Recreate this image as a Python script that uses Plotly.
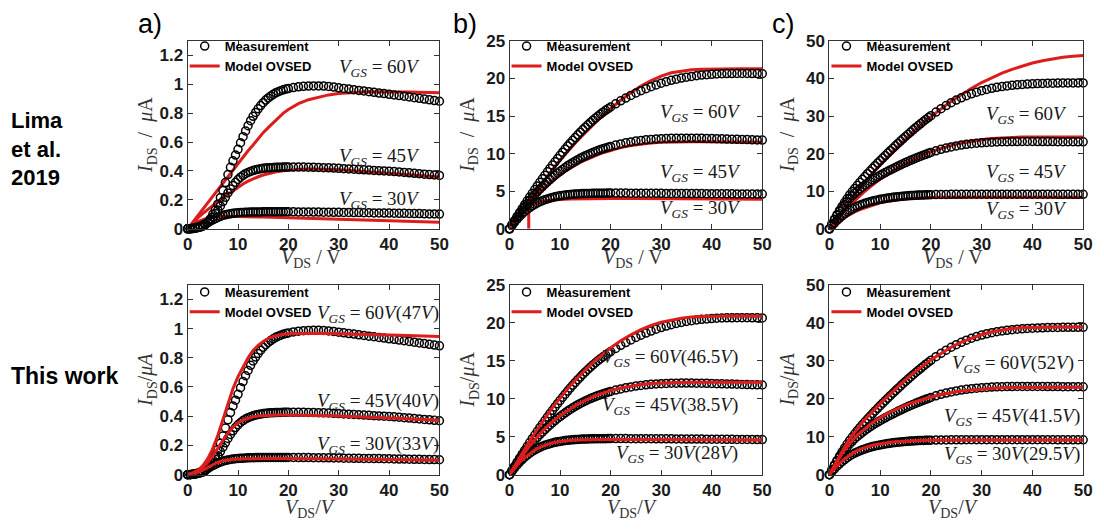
import plotly.graph_objects as go

# ---------------- data ----------------
VDS_MEAS = [0, 0.5, 1, 1.5, 2, 2.5, 3, 3.5, 4, 4.5, 5, 5.5, 6, 6.5, 7, 7.5, 8, 8.5, 9, 9.5,
            10, 10.5, 11, 11.5, 12, 12.5, 13, 13.5, 14, 14.5, 15, 15.5, 16, 16.5, 17, 17.5,
            18, 18.5, 19, 19.5, 20, 21, 22, 23, 24, 25, 26, 27, 28, 29, 30, 31, 32, 33, 34,
            35, 36, 37, 38, 39, 40, 41, 42, 43, 44, 45, 46, 47, 48, 49, 50]

# measurements (shared by both rows)
MEAS_A_30 = [0, 0.001, 0.003, 0.006, 0.010, 0.016, 0.024, 0.033, 0.043, 0.053, 0.062, 0.071, 0.079,
             0.086, 0.092, 0.097, 0.101, 0.104, 0.107, 0.109, 0.111, 0.112, 0.113, 0.114, 0.115,
             0.116, 0.116, 0.117, 0.117, 0.117, 0.118, 0.118, 0.118, 0.118, 0.118, 0.118, 0.118,
             0.118, 0.118, 0.118, 0.118, 0.118, 0.117, 0.117, 0.117, 0.116, 0.116, 0.115, 0.115,
             0.114, 0.114, 0.113, 0.113, 0.112, 0.112, 0.111, 0.111, 0.110, 0.110, 0.109, 0.109,
             0.108, 0.107, 0.107, 0.106, 0.105, 0.105, 0.104, 0.103, 0.103, 0.102]
MEAS_A_45 = [0, 0.000, 0.002, 0.005, 0.009, 0.014, 0.021, 0.031, 0.045, 0.062, 0.082, 0.105, 0.130,
             0.158, 0.188, 0.218, 0.248, 0.275, 0.300, 0.322, 0.341, 0.357, 0.370, 0.381, 0.390,
             0.397, 0.403, 0.408, 0.412, 0.415, 0.418, 0.420, 0.422, 0.423, 0.424, 0.425, 0.426,
             0.426, 0.427, 0.427, 0.427, 0.427, 0.427, 0.427, 0.426, 0.425, 0.424, 0.423, 0.422,
             0.420, 0.418, 0.416, 0.414, 0.412, 0.410, 0.408, 0.406, 0.404, 0.402, 0.400, 0.398,
             0.396, 0.393, 0.390, 0.387, 0.384, 0.381, 0.378, 0.375, 0.372, 0.369]
MEAS_A_60 = [0, 0.000, 0.002, 0.004, 0.008, 0.012, 0.018, 0.028, 0.045, 0.068, 0.100, 0.130, 0.170,
             0.215, 0.265, 0.320, 0.375, 0.425, 0.470, 0.510, 0.550, 0.595, 0.637, 0.677, 0.713,
             0.748, 0.778, 0.805, 0.830, 0.852, 0.872, 0.890, 0.905, 0.918, 0.930, 0.940, 0.948,
             0.955, 0.961, 0.966, 0.970, 0.977, 0.982, 0.985, 0.987, 0.988, 0.988, 0.987, 0.984,
             0.980, 0.975, 0.971, 0.966, 0.962, 0.957, 0.953, 0.948, 0.944, 0.939, 0.935, 0.930,
             0.926, 0.921, 0.917, 0.912, 0.907, 0.902, 0.897, 0.892, 0.887, 0.882]
MEAS_B_30 = [0, 0.45, 0.88, 1.28, 1.65, 1.99, 2.30, 2.58, 2.83, 3.06, 3.26, 3.44, 3.60, 3.74, 3.87,
             3.98, 4.08, 4.17, 4.25, 4.32, 4.38, 4.43, 4.48, 4.52, 4.56, 4.59, 4.62, 4.64, 4.66,
             4.68, 4.69, 4.70, 4.71, 4.72, 4.73, 4.73, 4.74, 4.74, 4.74, 4.75, 4.75, 4.75, 4.75,
             4.75, 4.74, 4.74, 4.74, 4.73, 4.73, 4.72, 4.72, 4.71, 4.71, 4.70, 4.70, 4.69, 4.69,
             4.68, 4.68, 4.67, 4.67, 4.66, 4.66, 4.65, 4.65, 4.64, 4.64, 4.63, 4.63, 4.62, 4.62]
MEAS_B_45 = [0, 0.52, 1.03, 1.53, 2.01, 2.48, 2.93, 3.36, 3.77, 4.17, 4.55, 4.92, 5.27, 5.61, 5.94,
             6.25, 6.55, 6.84, 7.12, 7.39, 7.65, 7.90, 8.14, 8.37, 8.59, 8.80, 9.00, 9.19, 9.37,
             9.54, 9.70, 9.86, 10.01, 10.15, 10.28, 10.41, 10.53, 10.64, 10.75, 10.85, 10.95,
             11.13, 11.29, 11.43, 11.55, 11.66, 11.75, 11.83, 11.89, 11.94, 11.98, 12.01, 12.03,
             12.04, 12.05, 12.05, 12.05, 12.04, 12.03, 12.02, 12.00, 11.98, 11.96, 11.94, 11.92,
             11.90, 11.88, 11.86, 11.84, 11.82, 11.80]
MEAS_B_60 = [0, 0.55, 1.10, 1.64, 2.17, 2.69, 3.21, 3.72, 4.23, 4.73, 5.22, 5.70, 6.18, 6.65, 7.12,
             7.58, 8.03, 8.47, 8.91, 9.34, 9.77, 10.19, 10.60, 11.00, 11.39, 11.77, 12.14, 12.50,
             12.85, 13.19, 13.52, 13.84, 14.15, 14.45, 14.73, 15.00, 15.26, 15.51, 15.75, 15.98,
             16.20, 16.62, 17.02, 17.39, 17.74, 18.06, 18.36, 18.64, 18.90, 19.14, 19.36, 19.56,
             19.74, 19.90, 20.04, 20.16, 20.27, 20.36, 20.44, 20.50, 20.55, 20.59, 20.62, 20.64,
             20.65, 20.66, 20.66, 20.66, 20.65, 20.64, 20.63]
MEAS_C_30 = [0, 0.78, 1.52, 2.21, 2.85, 3.44, 3.98, 4.47, 4.91, 5.31, 5.67, 5.99, 6.28, 6.54, 6.78,
             7.00, 7.20, 7.38, 7.54, 7.69, 7.83, 7.96, 8.08, 8.19, 8.29, 8.38, 8.47, 8.55, 8.62,
             8.68, 8.74, 8.79, 8.84, 8.88, 8.92, 8.96, 8.99, 9.02, 9.04, 9.06, 9.08, 9.11, 9.13,
             9.15, 9.16, 9.17, 9.18, 9.19, 9.19, 9.20, 9.20, 9.20, 9.20, 9.20, 9.20, 9.20, 9.20,
             9.20, 9.20, 9.20, 9.20, 9.20, 9.19, 9.19, 9.19, 9.18, 9.18, 9.18, 9.17, 9.17, 9.17]
MEAS_C_45 = [0, 1.25, 2.43, 3.54, 4.58, 5.55, 6.45, 7.29, 8.07, 8.79, 9.45, 10.05, 10.61, 11.14,
             11.64, 12.12, 12.58, 13.02, 13.44, 13.84, 14.22, 14.59, 14.95, 15.31, 15.65, 15.99,
             16.33, 16.66, 16.98, 17.30, 17.61, 17.91, 18.21, 18.49, 18.77, 19.04, 19.31, 19.57,
             19.82, 20.07, 20.31, 20.75, 21.14, 21.48, 21.78, 22.04, 22.26, 22.46, 22.62, 22.76,
             22.88, 22.97, 23.05, 23.11, 23.15, 23.18, 23.20, 23.21, 23.22, 23.22, 23.22, 23.21,
             23.21, 23.20, 23.19, 23.18, 23.17, 23.16, 23.15, 23.14, 23.13]
MEAS_C_60 = [0, 1.30, 2.55, 3.75, 4.90, 6.00, 7.05, 8.05, 9.00, 9.90, 10.75, 11.57, 12.37, 13.15,
             13.91, 14.65, 15.37, 16.08, 16.78, 17.47, 18.15, 18.82, 19.48, 20.14, 20.79, 21.43,
             22.07, 22.70, 23.32, 23.94, 24.55, 25.15, 25.74, 26.32, 26.89, 27.45, 28.00, 28.54,
             29.07, 29.59, 30.10, 31.05, 31.95, 32.78, 33.54, 34.23, 34.85, 35.41, 35.91, 36.35,
             36.74, 37.08, 37.37, 37.62, 37.83, 38.01, 38.16, 38.29, 38.40, 38.49, 38.56, 38.62,
             38.67, 38.71, 38.74, 38.76, 38.78, 38.79, 38.80, 38.80, 38.80]

VDS_MODEL = [0, 1, 2, 3, 4, 5, 6, 7, 8, 9, 10, 11, 12, 13, 14, 15, 16, 17, 18, 19, 20,
             22, 24, 26, 28, 30, 32, 34, 36, 38, 40, 42, 44, 46, 48, 50]
VDS_MODEL_LIMA_B30 = [3.8, 3.8, 4.5, 5, 6, 7, 8, 9, 10, 12, 14, 16, 18, 20, 25, 30, 35, 40, 45, 50]

# model, Lima et al. 2019 (top row)
LIMA_A_30 = [0, 0.03, 0.05, 0.065, 0.075, 0.082, 0.086, 0.087, 0.087, 0.087, 0.086, 0.085, 0.084,
             0.083, 0.082, 0.081, 0.080, 0.079, 0.078, 0.077, 0.076, 0.074, 0.072, 0.070, 0.068,
             0.066, 0.064, 0.062, 0.060, 0.058, 0.056, 0.054, 0.052, 0.050, 0.048, 0.046]
LIMA_A_45 = [0, 0.04, 0.075, 0.105, 0.135, 0.16, 0.19, 0.215, 0.24, 0.265, 0.29, 0.31, 0.33, 0.346,
             0.36, 0.372, 0.382, 0.39, 0.397, 0.402, 0.406, 0.411, 0.413, 0.413, 0.411, 0.408,
             0.404, 0.399, 0.394, 0.389, 0.384, 0.379, 0.374, 0.369, 0.364, 0.359]
LIMA_A_60 = [0, 0.045, 0.09, 0.135, 0.18, 0.225, 0.27, 0.32, 0.365, 0.41, 0.455, 0.50, 0.54, 0.58,
             0.625, 0.665, 0.70, 0.735, 0.77, 0.80, 0.825, 0.865, 0.893, 0.912, 0.926, 0.935,
             0.941, 0.945, 0.947, 0.948, 0.948, 0.947, 0.946, 0.945, 0.943, 0.941]
LIMA_B_30 = [0, 2.95, 3.25, 3.4, 3.6, 3.72, 3.8, 3.86, 3.9, 3.96, 4.0, 4.02, 4.03, 4.03, 4.02,
             4.0, 3.98, 3.96, 3.94, 3.92]
LIMA_B_45 = [0, 0.9, 1.8, 2.65, 3.45, 4.2, 4.9, 5.55, 6.15, 6.7, 7.2, 7.65, 8.07, 8.46, 8.82, 9.15,
             9.45, 9.73, 9.99, 10.22, 10.43, 10.8, 11.08, 11.28, 11.42, 11.51, 11.56, 11.58, 11.58,
             11.58, 11.57, 11.56, 11.55, 11.54, 11.52, 11.5]
LIMA_B_60 = [0, 1.0, 2.0, 2.95, 3.9, 4.8, 5.7, 6.6, 7.45, 8.3, 9.1, 9.9, 10.65, 11.4, 12.1, 12.8,
             13.5, 14.15, 14.8, 15.4, 16.0, 17.1, 18.1, 19.0, 19.7, 20.3, 20.75, 21.0, 21.15,
             21.22, 21.26, 21.28, 21.29, 21.29, 21.29, 21.29]
LIMA_C_30 = [0, 1.1, 2.1, 3.0, 3.8, 4.5, 5.1, 5.6, 6.1, 6.5, 6.9, 7.2, 7.45, 7.65, 7.8, 7.95, 8.05,
             8.15, 8.22, 8.28, 8.33, 8.38, 8.40, 8.40, 8.40, 8.40, 8.40, 8.40, 8.40, 8.40, 8.40,
             8.40, 8.40, 8.40, 8.40, 8.40]
LIMA_C_45 = [0, 1.7, 3.3, 4.8, 6.2, 7.5, 8.8, 10.0, 11.1, 12.2, 13.2, 14.1, 15.0, 15.9, 16.7, 17.4,
             18.1, 18.8, 19.4, 20.0, 20.5, 21.4, 22.2, 22.8, 23.3, 23.7, 24.0, 24.2, 24.3, 24.4,
             24.4, 24.4, 24.4, 24.4, 24.4, 24.4]
LIMA_C_60 = [0, 1.9, 3.8, 5.6, 7.4, 9.1, 10.8, 12.4, 14.0, 15.5, 17.0, 18.4, 19.8, 21.2, 22.5, 23.8,
             25.1, 26.3, 27.5, 28.7, 29.8, 31.9, 33.9, 35.7, 37.4, 38.9, 40.2, 41.4, 42.4, 43.3,
             44.1, 44.7, 45.2, 45.6, 45.9, 46.1]

# model, this work (bottom row)
THIS_A_30 = [0, 0.005, 0.015, 0.03, 0.05, 0.07, 0.085, 0.095, 0.102, 0.106, 0.108, 0.109, 0.11,
             0.11, 0.11, 0.11, 0.11, 0.11, 0.11, 0.11, 0.11, 0.11, 0.109, 0.109, 0.108, 0.108,
             0.107, 0.106, 0.105, 0.104, 0.103, 0.102, 0.101, 0.100, 0.099, 0.098]
THIS_A_45 = [0, 0.01, 0.025, 0.05, 0.085, 0.13, 0.18, 0.235, 0.285, 0.325, 0.355, 0.375, 0.388,
             0.396, 0.401, 0.404, 0.406, 0.407, 0.408, 0.408, 0.408, 0.407, 0.406, 0.405, 0.403,
             0.401, 0.399, 0.396, 0.393, 0.390, 0.387, 0.384, 0.381, 0.378, 0.375, 0.372]
THIS_A_60 = [0, 0.01, 0.03, 0.06, 0.11, 0.18, 0.27, 0.38, 0.49, 0.59, 0.67, 0.74, 0.80, 0.85,
             0.885, 0.912, 0.932, 0.946, 0.955, 0.961, 0.964, 0.967, 0.968, 0.968, 0.967, 0.966,
             0.964, 0.962, 0.960, 0.958, 0.956, 0.954, 0.952, 0.950, 0.948, 0.946]
THIS_B_30 = [0, 0.85, 1.6, 2.25, 2.8, 3.25, 3.6, 3.88, 4.1, 4.26, 4.38, 4.47, 4.53, 4.57, 4.6, 4.62,
             4.63, 4.64, 4.64, 4.64, 4.64, 4.64, 4.64, 4.63, 4.63, 4.62, 4.62, 4.61, 4.61, 4.60,
             4.60, 4.59, 4.59, 4.58, 4.58, 4.57]
THIS_B_45 = [0, 1.0, 1.97, 2.9, 3.78, 4.6, 5.36, 6.05, 6.68, 7.25, 7.77, 8.25, 8.69, 9.09, 9.46,
             9.8, 10.11, 10.39, 10.64, 10.87, 11.07, 11.41, 11.67, 11.86, 11.99, 12.07, 12.12,
             12.14, 12.15, 12.15, 12.15, 12.15, 12.15, 12.15, 12.15, 12.15]
THIS_B_60 = [0, 1.15, 2.28, 3.38, 4.45, 5.48, 6.48, 7.44, 8.37, 9.26, 10.11, 10.92, 11.70, 12.44,
             13.15, 13.82, 14.46, 15.07, 15.64, 16.18, 16.69, 17.61, 18.41, 19.08, 19.63, 20.06,
             20.38, 20.6, 20.74, 20.82, 20.86, 20.87, 20.87, 20.86, 20.85, 20.84]
THIS_C_30 = [0, 1.6, 3.0, 4.2, 5.2, 6.0, 6.65, 7.15, 7.55, 7.87, 8.13, 8.34, 8.51, 8.65, 8.76, 8.85,
             8.92, 8.97, 9.01, 9.04, 9.06, 9.09, 9.10, 9.10, 9.10, 9.10, 9.10, 9.10, 9.10, 9.10,
             9.10, 9.10, 9.10, 9.10, 9.10, 9.10]
THIS_C_45 = [0, 2.3, 4.5, 6.5, 8.2, 9.7, 11.0, 12.2, 13.25, 14.2, 15.05, 15.8, 16.5, 17.15, 17.75,
             18.3, 18.8, 19.25, 19.7, 20.1, 20.45, 21.1, 21.6, 22.0, 22.3, 22.55, 22.75, 22.88,
             22.96, 23.0, 23.02, 23.03, 23.03, 23.02, 23.01, 23.0]
THIS_C_60 = [0, 2.5, 4.95, 7.3, 9.5, 11.3, 12.95, 14.5, 15.95, 17.35, 18.7, 20.0, 21.3, 22.55, 23.8,
             25.0, 26.15, 27.25, 28.3, 29.3, 30.25, 32.0, 33.55, 34.9, 36.0, 36.9, 37.6, 38.1,
             38.45, 38.65, 38.78, 38.85, 38.88, 38.9, 38.9, 38.9]

VGS_LEVELS = ["30", "45", "60"]
THIS_A_VEFF = ["33", "40", "47"]
THIS_B_VEFF = ["28", "38.5", "46.5"]
THIS_C_VEFF = ["29.5", "41.5", "52"]

Y_MAX = [1.3, 25, 50]
Y_DTICK = [0.2, 5, 10]

# ---------------- layout helpers ----------------
W, H = 1104, 529
XPIX = [(185, 440), (511, 767), (835, 1092)]
YPIX = [(33, 228), (286, 483)]

RED = "#dd1c1c"
SANS = "Liberation Sans, Arial, sans-serif"
SERIF = "Liberation Serif, Times New Roman, serif"
TXT = "#1a1a1a"

fig = go.Figure()

panels = [
    (0, 0, [MEAS_A_30, MEAS_A_45, MEAS_A_60], [LIMA_A_30, LIMA_A_45, LIMA_A_60], [VDS_MODEL] * 3, None),
    (0, 1, [MEAS_B_30, MEAS_B_45, MEAS_B_60], [LIMA_B_30, LIMA_B_45, LIMA_B_60],
     [VDS_MODEL_LIMA_B30, VDS_MODEL, VDS_MODEL], None),
    (0, 2, [MEAS_C_30, MEAS_C_45, MEAS_C_60], [LIMA_C_30, LIMA_C_45, LIMA_C_60], [VDS_MODEL] * 3, None),
    (1, 0, [MEAS_A_30, MEAS_A_45, MEAS_A_60], [THIS_A_30, THIS_A_45, THIS_A_60], [VDS_MODEL] * 3, THIS_A_VEFF),
    (1, 1, [MEAS_B_30, MEAS_B_45, MEAS_B_60], [THIS_B_30, THIS_B_45, THIS_B_60], [VDS_MODEL] * 3, THIS_B_VEFF),
    (1, 2, [MEAS_C_30, MEAS_C_45, MEAS_C_60], [THIS_C_30, THIS_C_45, THIS_C_60], [VDS_MODEL] * 3, THIS_C_VEFF),
]

# label anchor (x right edge, y centre) per panel, in data units, plus a pixel nudge
LABEL_X = [[46.6, 46.6, 46.6], [46.2, 46.2, 46.2], [47.3, 47.3, 47.3],
           [50, 50, 50], [45.5, 45.5, 45.5], [50, 50, 48.6]]
LABEL_SHIFT = [[0, 0, 0], [0, 0, 0], [0, 0, 0], [2, 2, 2], [0, 0, 0], [-1, -1, 0]]
LABEL_Y = [[0.20, 0.50, 1.11], [2.6, 7.4, 15.4], [5.1, 14.9, 30.3],
           [0.205, 0.50, 1.10], [2.7, 9.0, 15.3], [5.1, 15.2, 29.2]]

annotations = []
layout = {}

for p, (row, col, meas, model, mx, veff) in enumerate(panels):
    n = "" if p == 0 else str(p + 1)
    xa, ya = "x" + n, "y" + n
    leg = "legend" + n
    meas_traces = []
    for k in range(3):
        meas_traces.append(go.Scatter(
            x=VDS_MEAS, y=meas[k], mode="markers", xaxis=xa, yaxis=ya,
            marker=dict(symbol="circle-open", size=8, color="black", line=dict(width=1.5)),
            name="Measurement", legend=leg, legendrank=1, showlegend=(k == 0), cliponaxis=False))
    model_traces = []
    for k in range(3):
        model_traces.append(go.Scatter(
            x=mx[k], y=model[k], mode="lines", xaxis=xa, yaxis=ya,
            line=dict(color=RED, width=3), name="Model OVSED", legend=leg, legendrank=2,
            showlegend=(k == 0)))
    if row == 0:
        fig.add_traces(model_traces + meas_traces)
    else:
        fig.add_traces(meas_traces + model_traces)

    x0, x1 = XPIX[col]
    y0, y1 = YPIX[row]
    axis_common = dict(showline=True, linecolor="#333333", linewidth=1, mirror="ticks",
                       ticks="inside", ticklen=5, tickcolor="#333333", showgrid=False,
                       zeroline=False, ticklabelstandoff=0,
                       tickfont=dict(family=SANS, size=17, color=TXT, weight="bold"))
    layout["xaxis" + n] = dict(domain=[x0 / W, x1 / W], anchor=ya, range=[0, 50], dtick=10,
                               tick0=0, **axis_common)
    layout["yaxis" + n] = dict(domain=[1 - y1 / H, 1 - y0 / H], anchor=xa, range=[0, Y_MAX[col]],
                               dtick=Y_DTICK[col], tick0=0, **axis_common)
    legtop = y0 - 10 if row == 0 else y0 - 8
    layout[leg] = dict(x=(x0 - 3) / W, y=1 - legtop / H, xanchor="left", yanchor="top",
                       bgcolor="rgba(0,0,0,0)", borderwidth=0, traceorder="normal",
                       font=dict(family=SANS, size=13, color="black", weight="bold"),
                       tracegroupgap=0, itemwidth=30)

    # VGS labels
    for k in range(3):
        txt = "<i>V</i><sub><i>GS</i></sub> = " + VGS_LEVELS[k] + "<i>V</i>"
        if veff is not None:
            txt += "(" + veff[k] + "<i>V</i>)"
        annotations.append(dict(x=LABEL_X[p][k], y=LABEL_Y[p][k], xref=xa, yref=ya, text=txt,
                                xshift=LABEL_SHIFT[p][k],
                                showarrow=False, xanchor="right", yanchor="middle",
                                font=dict(family=SERIF, size=19, color=TXT)))

    # axis titles
    cx = (x0 + x1) / 2
    if row == 0:
        xt = "<i>V</i><sub>DS</sub> / V"
        yt = "<i>I</i><sub>DS</sub> \u00a0/\u00a0 <i>μ</i>A"
        xty = 259
    else:
        xt = "<i>V</i><sub>DS</sub>/<i>V</i>"
        yt = "<i>I</i><sub>DS</sub>/<i>μ</i>" + ("A" if col == 1 else "<i>A</i>")
        xty = 518
    annotations.append(dict(x=(cx - 3) / W, y=1 - xty / H, xref="paper", yref="paper", text=xt,
                            showarrow=False, xanchor="center", yanchor="middle",
                            font=dict(family=SERIF, size=20, color="#333333")))
    annotations.append(dict(x=(x0 - 41) / W, y=1 - (y0 + y1) / 2 / H, xref="paper", yref="paper",
                            text=yt, textangle=-90, showarrow=False, xanchor="center",
                            yanchor="middle", font=dict(family=SERIF, size=20, color="#333333")))

# panel letters
for lab, px in zip(["a)", "b)", "c)"], [147, 466, 788]):
    annotations.append(dict(x=px / W, y=1 - 16 / H, xref="paper", yref="paper", text=lab,
                            showarrow=False, xanchor="center", yanchor="middle",
                            font=dict(family=SANS, size=27, color="black")))

# row labels
annotations.append(dict(x=4 / W, y=1 - 145 / H, xref="paper", yref="paper",
                        text="<b>Lima<br>et al.<br>2019</b>", align="left", showarrow=False,
                        xanchor="left", yanchor="middle",
                        font=dict(family=SANS, size=22, color="black")))
annotations.append(dict(x=4 / W, y=1 - 381 / H, xref="paper", yref="paper",
                        text="<b>This work</b>", align="left", showarrow=False,
                        xanchor="left", yanchor="middle",
                        font=dict(family=SANS, size=23, color="black")))

fig.update_layout(width=W, height=H, margin=dict(l=0, r=0, t=0, b=0),
                  paper_bgcolor="white", plot_bgcolor="white", annotations=annotations,
                  **layout)

fig.write_html("out.html")
